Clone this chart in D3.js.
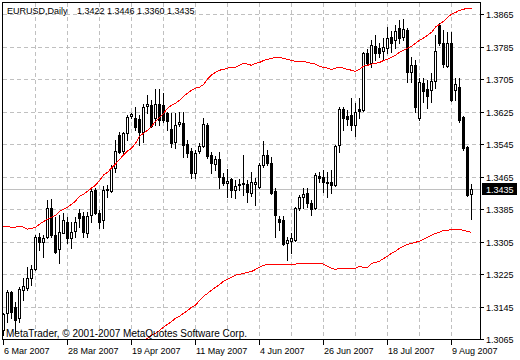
<!DOCTYPE html>
<html>
<head>
<meta charset="utf-8">
<script src="https://cdn.jsdelivr.net/npm/d3@7"></script>
<style>
html,body{margin:0;padding:0;background:#fff;}
svg{display:block;}
text{font-family:"Liberation Sans",Arial,sans-serif;fill:#000;}
</style>
</head>
<body>
<div id="chart"></div>
<script>
// ---- data ----
const symbolTitle = "EURUSD,Daily";
const lastBarText = "1.3422 1.3446 1.3360 1.3435";
const copyrightText = "MetaTrader, \u00A9 2001-2007 MetaQuotes Software Corp.";
const currentPrice = 1.3435;

const opens = [1.3088,1.3130,1.3182,1.3145,1.3118,1.3187,1.3192,1.3216,1.3238,1.3317,
1.3305,1.3317,1.3388,1.3322,1.3287,1.3327,1.3354,1.3315,1.3332,1.3376,
1.3369,1.3327,1.3371,1.3433,1.3376,1.3359,1.3433,1.3430,1.3487,1.3568,
1.3529,1.3573,1.3615,1.3610,1.3607,1.3575,1.3639,1.3642,1.3610,1.3644,
1.3642,1.3622,1.3583,1.3551,1.3595,1.3597,1.3546,1.3529,1.3474,1.3529,
1.3541,1.3592,1.3519,1.3497,1.3509,1.3465,1.3450,1.3460,1.3433,1.3445,
1.3447,1.3447,1.3425,1.3447,1.3440,1.3494,1.3519,1.3499,1.3430,1.3361,
1.3359,1.3302,1.3307,1.3310,1.3388,1.3415,1.3425,1.3401,1.3388,1.3467,
1.3465,1.3452,1.3452,1.3445,1.3543,1.3632,1.3615,1.3617,1.3592,1.3632,
1.3629,1.3770,1.3745,1.3787,1.3782,1.3775,1.3782,1.3809,1.3802,1.3831,
1.3809,1.3826,1.3723,1.3740,1.3610,1.3696,1.3681,1.3678,1.3701,1.3839,
1.3794,1.3738,1.3794,1.3678,1.3686,1.3612,1.3538,1.3422];
const highs = [1.3130,1.3187,1.3185,1.3157,1.3194,1.3216,1.3243,1.3248,1.3322,1.3327,
1.3322,1.3408,1.3410,1.3366,1.3371,1.3376,1.3366,1.3354,1.3366,1.3386,
1.3378,1.3378,1.3440,1.3438,1.3383,1.3442,1.3445,1.3494,1.3556,1.3575,
1.3575,1.3617,1.3622,1.3637,1.3617,1.3644,1.3666,1.3654,1.3681,1.3681,
1.3671,1.3624,1.3622,1.3622,1.3624,1.3624,1.3556,1.3536,1.3531,1.3548,
1.3610,1.3597,1.3526,1.3516,1.3526,1.3474,1.3484,1.3462,1.3457,1.3460,
1.3519,1.3457,1.3477,1.3462,1.3499,1.3553,1.3531,1.3514,1.3438,1.3369,
1.3369,1.3317,1.3327,1.3391,1.3420,1.3438,1.3438,1.3408,1.3474,1.3477,
1.3482,1.3477,1.3482,1.3543,1.3637,1.3637,1.3629,1.3659,1.3647,1.3659,
1.3772,1.3779,1.3802,1.3814,1.3794,1.3807,1.3834,1.3824,1.3839,1.3851,
1.3853,1.3831,1.3760,1.3752,1.3708,1.3708,1.3703,1.3720,1.3814,1.3843,
1.3826,1.3821,1.3821,1.3708,1.3708,1.3615,1.3541,1.3446];
const lows = [1.3075,1.3108,1.3118,1.3083,1.3108,1.3162,1.3187,1.3199,1.3236,1.3285,
1.3268,1.3315,1.3317,1.3278,1.3253,1.3327,1.3302,1.3290,1.3317,1.3342,
1.3317,1.3317,1.3354,1.3374,1.3339,1.3339,1.3415,1.3428,1.3477,1.3524,
1.3524,1.3556,1.3610,1.3580,1.3543,1.3551,1.3622,1.3588,1.3592,1.3592,
1.3600,1.3580,1.3538,1.3536,1.3590,1.3514,1.3514,1.3462,1.3462,1.3524,
1.3538,1.3511,1.3474,1.3482,1.3438,1.3445,1.3415,1.3415,1.3413,1.3433,
1.3420,1.3403,1.3418,1.3396,1.3438,1.3489,1.3494,1.3423,1.3317,1.3334,
1.3297,1.3260,1.3278,1.3307,1.3383,1.3388,1.3391,1.3371,1.3386,1.3452,
1.3428,1.3415,1.3425,1.3442,1.3526,1.3580,1.3592,1.3580,1.3565,1.3610,
1.3627,1.3740,1.3735,1.3752,1.3760,1.3752,1.3770,1.3772,1.3782,1.3794,
1.3802,1.3698,1.3698,1.3624,1.3605,1.3649,1.3634,1.3649,1.3684,1.3789,
1.3735,1.3735,1.3651,1.3654,1.3600,1.3531,1.3418,1.3360];
const closes = [1.3127,1.3182,1.3132,1.3113,1.3189,1.3196,1.3216,1.3238,1.3317,1.3305,
1.3315,1.3388,1.3322,1.3280,1.3329,1.3359,1.3315,1.3329,1.3354,1.3364,
1.3329,1.3369,1.3430,1.3376,1.3354,1.3433,1.3435,1.3487,1.3529,1.3526,
1.3573,1.3612,1.3620,1.3588,1.3575,1.3637,1.3644,1.3590,1.3644,1.3605,
1.3605,1.3602,1.3548,1.3592,1.3600,1.3543,1.3524,1.3474,1.3524,1.3541,
1.3595,1.3516,1.3499,1.3509,1.3465,1.3450,1.3455,1.3433,1.3442,1.3447,
1.3450,1.3428,1.3452,1.3452,1.3494,1.3519,1.3499,1.3425,1.3371,1.3354,
1.3300,1.3310,1.3315,1.3388,1.3415,1.3423,1.3401,1.3386,1.3470,1.3462,
1.3452,1.3450,1.3445,1.3541,1.3632,1.3610,1.3607,1.3592,1.3624,1.3627,
1.3770,1.3745,1.3789,1.3770,1.3770,1.3784,1.3807,1.3794,1.3824,1.3807,
1.3829,1.3723,1.3740,1.3637,1.3698,1.3676,1.3664,1.3701,1.3775,1.3794,
1.3743,1.3794,1.3654,1.3693,1.3605,1.3536,1.3420,1.3435];

const upperBand = [1.3344,1.3343,1.3342,1.3342,1.3344,1.3342,1.3337,1.3339,1.3342,1.3349,
1.3356,1.3361,1.3366,1.3371,1.3381,1.3386,1.3391,1.3398,1.3406,1.3418,
1.3423,1.3430,1.3438,1.3445,1.3457,1.3470,1.3477,1.3487,1.3497,1.3509,
1.3519,1.3529,1.3536,1.3548,1.3565,1.3573,1.3580,1.3590,1.3602,1.3612,
1.3622,1.3634,1.3642,1.3647,1.3654,1.3664,1.3671,1.3679,1.3684,1.3686,
1.3693,1.3706,1.3716,1.3723,1.3728,1.3730,1.3733,1.3735,1.3735,1.3740,
1.3745,1.3743,1.3740,1.3745,1.3747,1.3752,1.3755,1.3757,1.3760,1.3760,
1.3757,1.3755,1.3752,1.3750,1.3750,1.3750,1.3747,1.3745,1.3743,1.3738,
1.3735,1.3733,1.3730,1.3733,1.3735,1.3733,1.3730,1.3728,1.3725,1.3730,
1.3738,1.3740,1.3743,1.3745,1.3747,1.3752,1.3755,1.3760,1.3765,1.3772,
1.3777,1.3782,1.3787,1.3794,1.3802,1.3807,1.3814,1.3821,1.3834,1.3841,
1.3848,1.3858,1.3866,1.3870,1.3875,1.3878,1.3880,1.3880];

const lowerBand = [null,null,null,null,null,null,null,null,null,null,
null,null,null,null,null,null,null,null,null,null,
null,null,null,null,null,null,null,null,null,null,
null,null,null,null,1.3052,1.3061,1.3069,1.3076,1.3081,1.3088,
1.3096,1.3103,1.3110,1.3118,1.3123,1.3130,1.3137,1.3145,1.3150,1.3162,
1.3172,1.3179,1.3187,1.3194,1.3201,1.3209,1.3214,1.3219,1.3224,1.3226,
1.3228,1.3231,1.3233,1.3238,1.3243,1.3248,1.3251,1.3251,1.3251,1.3251,
1.3251,1.3251,1.3251,1.3251,1.3253,1.3253,1.3253,1.3253,1.3253,1.3253,
1.3251,1.3246,1.3241,1.3238,1.3241,1.3241,1.3241,1.3241,1.3241,1.3246,
1.3243,1.3243,1.3253,1.3255,1.3258,1.3265,1.3270,1.3278,1.3283,1.3290,
1.3295,1.3300,1.3302,1.3305,1.3307,1.3312,1.3317,1.3322,1.3327,1.3329,
1.3334,1.3334,1.3337,1.3337,1.3337,1.3334,1.3332,1.3329];

const priceTicks = [1.3865,1.3785,1.3705,1.3625,1.3545,1.3465,1.3385,1.3305,1.3225,1.3145,1.3065];
const dateTickBars = [0,16,32,48,64,80,96,112];
const dateTickLabels = ["6 Mar 2007","28 Mar 2007","19 Apr 2007","11 May 2007","4 Jun 2007","26 Jun 2007","18 Jul 2007","9 Aug 2007"];
const gridBars = [8,16,24,32,40,48,56,64,72,80,88,96,104,112];

// ---- layout ----
const W = 520, H = 360;
const pLeft = 2, pRight = 480, pTop = 2, pBottom = 339;
const nBars = opens.length;

const svg = d3.select("#chart").append("svg")
  .attr("width", W).attr("height", H)
  .attr("shape-rendering", "crispEdges");

const x = d3.scaleLinear().domain([0, nBars - 1]).range([3, 3 + 4 * (nBars - 1)]);
const y = d3.scaleLinear().domain([1.3065, 1.3865]).range([339.3, 14]);
const px = i => Math.round(x(i));
const py = v => Math.round(y(v));

svg.append("defs").append("clipPath").attr("id", "plot")
  .append("rect").attr("x", pLeft + 1).attr("y", pTop + 1)
  .attr("width", pRight - pLeft - 1).attr("height", pBottom - pTop - 1);

const plot = svg.append("g").attr("clip-path", "url(#plot)");

// grid
const gridColor = "#c0c0c0";
plot.selectAll("line.hgrid").data(priceTicks.slice(0, -1)).enter().append("line")
  .attr("x1", pLeft + 1).attr("x2", pRight)
  .attr("y1", d => py(d) + 0.5).attr("y2", d => py(d) + 0.5)
  .attr("stroke", gridColor).attr("stroke-dasharray", "4,3");
plot.selectAll("line.vgrid").data(gridBars).enter().append("line")
  .attr("x1", d => px(d) + 0.5).attr("x2", d => px(d) + 0.5)
  .attr("y1", pTop + 1).attr("y2", pBottom)
  .attr("stroke", gridColor).attr("stroke-dasharray", "4,3");

// current price line
plot.append("line")
  .attr("x1", pLeft + 1).attr("x2", pRight)
  .attr("y1", py(currentPrice) + 0.5).attr("y2", py(currentPrice) + 0.5)
  .attr("stroke", "#c0c0c0");

// candles
const bars = d3.range(nBars);
const cg = plot.append("g");
bars.forEach(i => {
  const c = px(i);
  const yh = py(highs[i]), yl = py(lows[i]);
  const bt = py(Math.max(opens[i], closes[i]));
  const bb = py(Math.min(opens[i], closes[i]));
  cg.append("rect").attr("x", c).attr("y", yh).attr("width", 1).attr("height", yl - yh + 1).attr("fill", "#000");
  cg.append("rect").attr("x", c - 1).attr("y", bt).attr("width", 3).attr("height", bb - bt + 1).attr("fill", "#000");
  if (closes[i] >= opens[i] && bb - bt > 1) {
    cg.append("rect").attr("x", c).attr("y", bt + 1).attr("width", 1).attr("height", bb - bt - 1).attr("fill", "#fff");
  }
});

// bands
const bandLine = d3.line()
  .defined(d => d.v !== null)
  .x(d => x(d.i) + 0.5)
  .y(d => y(d.v) + 0.5);
[upperBand, lowerBand].forEach(arr => {
  plot.append("path")
    .attr("d", bandLine(arr.map((v, i) => ({i, v}))))
    .attr("fill", "none").attr("stroke", "#ff0000").attr("stroke-width", 1);
});

// frame
svg.append("rect").attr("x", pLeft + 0.5).attr("y", pTop + 0.5)
  .attr("width", pRight - pLeft).attr("height", pBottom - pTop)
  .attr("fill", "none").attr("stroke", "#000");

// price axis
const ya = svg.append("g");
priceTicks.forEach(t => {
  const yy = py(t);
  ya.append("line").attr("x1", pRight).attr("x2", pRight + 4)
    .attr("y1", yy + 0.5).attr("y2", yy + 0.5).attr("stroke", "#000");
  ya.append("text").attr("x", pRight + 6).attr("y", yy + 4)
    .attr("font-size", "9px").text(t.toFixed(4));
});
// current price box
const cy = py(currentPrice);
svg.append("rect").attr("x", pRight + 2).attr("y", cy - 6).attr("width", 35).attr("height", 12).attr("fill", "#000");
svg.append("text").attr("x", pRight + 6).attr("y", cy + 4).attr("font-size", "9px")
  .style("fill", "#fff").text(currentPrice.toFixed(4));

// date axis
const xa = svg.append("g");
dateTickBars.forEach((b, k) => {
  const xx = px(b);
  xa.append("line").attr("x1", xx + 0.5).attr("x2", xx + 0.5)
    .attr("y1", pBottom).attr("y2", pBottom + 6).attr("stroke", "#000");
  xa.append("text").attr("x", xx + 1).attr("y", 354)
    .attr("font-size", "9px").text(dateTickLabels[k]);
});

// titles
svg.append("text").attr("x", 7).attr("y", 14).attr("font-size", "9px").text(symbolTitle);
svg.append("text").attr("x", 77).attr("y", 14).attr("font-size", "9px").text(lastBarText);
svg.append("text").attr("x", 6).attr("y", 337).attr("font-size", "10px").text(copyrightText);
</script>
</body>
</html>
